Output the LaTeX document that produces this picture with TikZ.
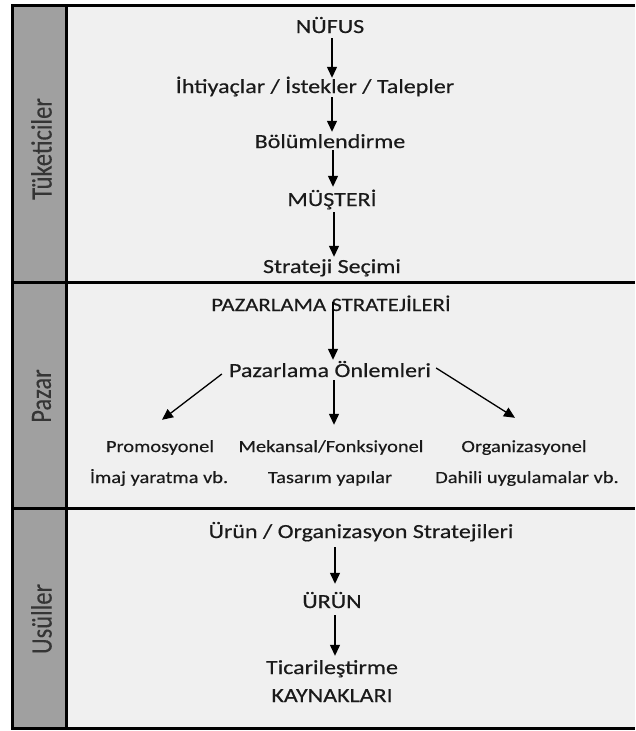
\documentclass[tikz,border=0pt]{standalone}
\usepackage{fontspec}
\setmainfont{Carlito}[FakeStretch=1.2, FakeBold=0.4]
\newfontfamily\sidefont{Carlito}[FakeBold=0.2]
\usetikzlibrary{arrows.meta}

\definecolor{panel}{HTML}{F0F0F0}
\definecolor{side}{HTML}{A0A0A0}
\definecolor{ink}{HTML}{1A1A1A}
\definecolor{sideink}{HTML}{353535}

\tikzset{
  frame/.style={line width=3pt, draw=black},
  lbl/.style={anchor=base, inner sep=0pt, text height=14pt, text depth=4pt,
              text=ink, font=\fontsize{20}{24}\selectfont},
  small/.style={lbl, font=\fontsize{17}{20}\selectfont},
  arr/.style={line width=1.3pt, -{Triangle[length=11pt,width=10pt]}},
  sidelbl/.style={rotate=90, inner sep=0pt, text=sideink,
                  font=\sidefont\fontsize{24.5}{28}\selectfont}
}

\newcommand{\sidetext}[1]{\scalebox{1}[1.2]{#1}}

\begin{document}
\begin{tikzpicture}[x=1pt, y=-1pt]
\useasboundingbox (0,0) rectangle (635,731);
\fill[white] (0,0) rectangle (635,731);

% panels and frame
\fill[panel] (12.5,5.5) rectangle (635,728.5);
\fill[side] (12.5,5.5) rectangle (66.5,728.5);
\draw[frame] (635,5.5) -- (12.5,5.5) -- (12.5,728.5) -- (635,728.5);
\draw[frame] (66.5,5.5) -- (66.5,728.5);
\draw[frame] (12.5,282.5) -- (635,282.5);
\draw[frame] (12.5,508) -- (635,508);

% row titles
\node[sidelbl] (tuk) at (41.5,149) {\sidetext{Tüketiciler}};
\node[sidelbl] (paz) at (41.5,396) {\sidetext{Pazar}};
\node[sidelbl] (usu) at (41.5,619) {\sidetext{Usüller}};

% consumers
\node[lbl] (nufus)   at (330,33)  {NÜFUS};
\node[lbl] (ihtiyac) at (315,93)  {İhtiyaçlar / İstekler / Talepler};
\node[lbl] (bolum)   at (330,148) {Bölümlendirme};
\node[lbl] (musteri) at (332,206) {MÜŞTERİ};
\node[lbl] (secim)   at (332,273) {Strateji Seçimi};

\draw[arr, shorten <=1pt, shorten >=1pt] ([xshift=2pt]nufus.south) -- ([xshift=2pt]nufus.south |- ihtiyac.north);
\draw[arr, shorten >=2pt] ([xshift=2pt]nufus.south |- ihtiyac.south) -- ([xshift=2pt]nufus.south |- bolum.north);
\draw[arr, shorten <=-2pt, shorten >=5pt] ([xshift=3pt]bolum.south) -- ([xshift=3pt]bolum.south |- musteri.north);
\draw[arr, shorten <=2pt, shorten >=2pt] ([xshift=2pt]musteri.south) -- ([xshift=2pt]musteri.south |- secim.north);

% market
\node[lbl, font=\fontsize{19}{22}\selectfont] (pstrat) at (331,311) {PAZARLAMA STRATEJİLERİ};
\node[lbl] (onlem)  at (330,377) {Pazarlama Önlemleri};
\node[small] (promo)  at (160,452) {Promosyonel};
\node[small] (mekan)  at (331,452) {Mekansal/Fonksiyonel};
\node[small] (organ)  at (524,452) {Organizasyonel};
\node[small] (imaj)   at (159,483) {İmaj yaratma vb.};
\node[small] (tasar)  at (330,483) {Tasarım yapılar};
\node[small] (dahil)  at (527,483) {Dahili uygulamalar vb.};

\draw[arr, shorten <=-13pt, shorten >=3pt] ([xshift=2pt]pstrat.south) -- ([xshift=2pt]pstrat.south |- onlem.north);
\draw[arr] ([xshift=-7pt, yshift=-2pt]onlem.west) -- ([xshift=2pt, yshift=18pt]promo.north);
\draw[arr] ([xshift=4pt, yshift=1pt]onlem.south) -- ([xshift=3pt, yshift=13pt]mekan.north);
\draw[arr] ([xshift=5pt, yshift=4pt]onlem.east) -- ([xshift=-9pt, yshift=20pt]organ.north);

% methods
\node[lbl] (urunst) at (361,538) {Ürün / Organizasyon Stratejileri};
\node[lbl] (urun)   at (332,608) {ÜRÜN};
\node[lbl] (ticari) at (332,674) {Ticarileştirme};
\node[lbl] (kayn)   at (332,702) {KAYNAKLARI};

\draw[arr, shorten <=5pt, shorten >=10pt] ([xshift=3pt]urunst.south -| urun.north) -- ([xshift=3pt]urun.north);
\draw[arr, shorten <=3pt, shorten >=4pt] ([xshift=3pt]urun.south) -- ([xshift=3pt]urun.south |- ticari.north);
\end{tikzpicture}
\end{document}
